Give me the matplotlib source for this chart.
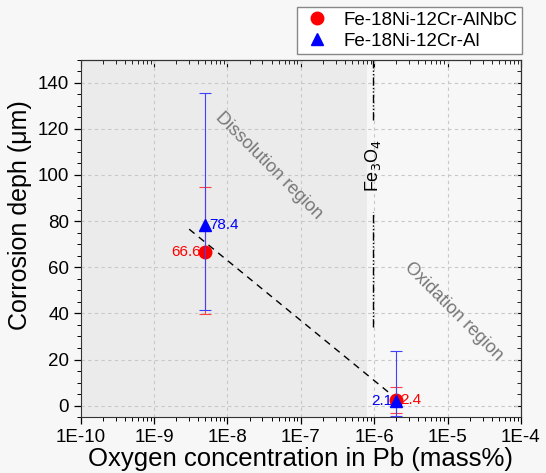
import matplotlib.pyplot as plt
from matplotlib.lines import Line2D
from matplotlib.ticker import LogLocator, NullFormatter, MultipleLocator, FixedLocator

plt.rcParams['font.family'] = ['Liberation Sans', 'DejaVu Sans']

# Data
oxygen = [5e-9, 2e-6]
depth_albnc = [66.6, 2.4]
err_albnc_low = [27, 5.5]
err_albnc_high = [28, 5.5]
depth_al = [78.4, 2.1]
err_al_low = [37, 6.5]
err_al_high = [57, 21.5]

# trend line
trend_x = [3e-9, 2.1e-6]
trend_y = [76.5, 2.5]

shade_end = 8e-7
fe3o4_x = 9.5e-7
xticks = [1e-10, 1e-9, 1e-8, 1e-7, 1e-6, 1e-5, 1e-4]
xtick_labels = ['1E-10', '1E-9', '1E-8', '1E-7', '1E-6', '1E-5', '1E-4']

fig = plt.figure(figsize=(5.46, 4.73), dpi=100, facecolor='#f7f7f7')
ax = fig.add_axes([0.148, 0.118, 0.806, 0.756])
ax.set_facecolor('#f7f7f7')

ax.axvspan(1e-10, shade_end, color='#ebebeb', zorder=0, lw=0)

ax.plot(trend_x, trend_y, ls=(0, (5, 4)), color='black', lw=1.0, zorder=2)

ax.errorbar(oxygen, depth_albnc, yerr=[err_albnc_low, err_albnc_high], fmt='o',
            color='#ff0000', ms=9, ecolor='#ff4040', elinewidth=0.8, capsize=4,
            capthick=0.8, zorder=3)
ax.errorbar(oxygen, depth_al, yerr=[err_al_low, err_al_high], fmt='^',
            color='#0000ff', ms=9, ecolor='#4040ff', elinewidth=0.8, capsize=4,
            capthick=0.8, zorder=4)

# value labels
ax.text(oxygen[0] * 1.12, depth_al[0], '78.4', color='#0000ff', fontsize=11,
        ha='left', va='center')
ax.text(oxygen[0] * 0.88, depth_albnc[0], '66.6', color='#ff0000', fontsize=11,
        ha='right', va='center')
ax.text(oxygen[1] * 0.88, depth_al[1], '2.1', color='#0000ff', fontsize=11,
        ha='right', va='center')
ax.text(oxygen[1] * 1.12, depth_albnc[1], '2.4', color='#ff0000', fontsize=11,
        ha='left', va='center')

# Fe3O4 boundary
dashdot = (0, (6, 1.5, 1, 1.5, 1, 1.5))
ax.plot([fe3o4_x, fe3o4_x], [124, 150], color='black', lw=1.0, ls=dashdot)
ax.plot([fe3o4_x, fe3o4_x], [34, 84], color='black', lw=1.0, ls=dashdot)
ax.text(fe3o4_x, 104, 'Fe$_3$O$_4$', rotation=90, ha='center', va='center', fontsize=13)

ax.text(3.6e-8, 104, 'Dissolution region', rotation=-45, ha='center', va='center',
        fontsize=13, color='#777777')
ax.text(1.2e-5, 41, 'Oxidation region', rotation=-45, ha='center', va='center',
        fontsize=13, color='#777777')

ax.set_xscale('log')
ax.set_xlim(1e-10, 1e-4)
ax.set_ylim(-5, 150)
ax.xaxis.set_major_locator(FixedLocator(xticks))
ax.set_xticklabels(xtick_labels)
ax.xaxis.set_minor_locator(LogLocator(base=10, subs=range(2, 10), numticks=20))
ax.xaxis.set_minor_formatter(NullFormatter())
ax.set_yticks(range(0, 141, 20))
ax.yaxis.set_minor_locator(MultipleLocator(5))

ax.tick_params(which='both', direction='out', labelsize=13.5, top=False, right=False)
ax.tick_params(which='major', length=5, width=0.9)
ax.tick_params(which='minor', length=3, width=0.7)

# inward ticks on top and right
sec_x = ax.secondary_xaxis('top')
sec_x.set_xticks(xticks)
sec_x.xaxis.set_minor_locator(LogLocator(base=10, subs=range(2, 10), numticks=20))
sec_x.xaxis.set_minor_formatter(NullFormatter())
sec_x.tick_params(which='both', direction='in', labeltop=False)
sec_x.tick_params(which='major', length=5)
sec_x.tick_params(which='minor', length=3)
sec_y = ax.secondary_yaxis('right')
sec_y.set_yticks(range(0, 141, 20))
sec_y.yaxis.set_minor_locator(MultipleLocator(5))
sec_y.tick_params(which='both', direction='in', labelright=False)
sec_y.tick_params(which='major', length=5)
sec_y.tick_params(which='minor', length=3)

ax.grid(True, which='major', ls=(0, (3, 3)), color='#c8c8c8', lw=0.8)
ax.set_axisbelow(True)

for s in ax.spines.values():
    s.set_color('#333333')

ax.set_xlabel('Oxygen concentration in Pb (mass%)', fontsize=18.5, labelpad=1)
ax.set_ylabel('Corrosion deph (\u03bcm)', fontsize=18)
ax.yaxis.set_label_coords(-0.112, 0.565)

handles = [
    Line2D([], [], marker='o', ls='none', color='#ff0000', ms=9),
    Line2D([], [], marker='^', ls='none', color='#0000ff', ms=9),
]
fig.legend(handles, ['Fe-18Ni-12Cr-AlNbC', 'Fe-18Ni-12Cr-Al'], loc='upper right',
           bbox_to_anchor=(0.956, 0.985), borderaxespad=0, fontsize=13.5,
           frameon=True, fancybox=False, edgecolor='#888888', facecolor='white',
           handletextpad=0.6, borderpad=0.25, labelspacing=0.2, handlelength=1.6,
           framealpha=1)

fig.savefig('out.png', dpi=100, facecolor=fig.get_facecolor())
